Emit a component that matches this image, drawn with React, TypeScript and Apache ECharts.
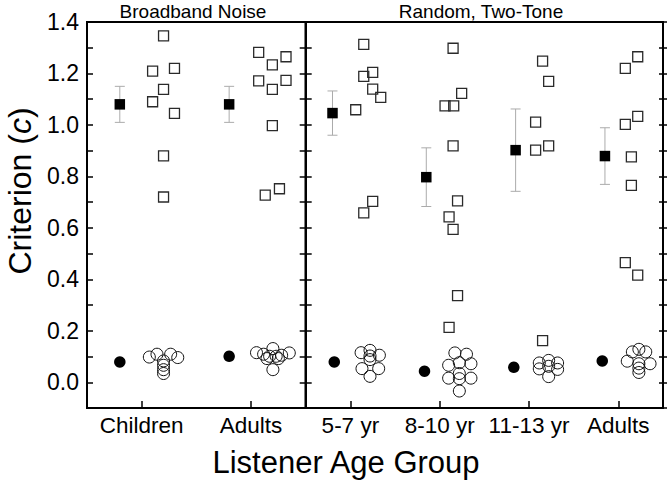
import React, { useEffect, useRef } from "react";
import * as echarts from "echarts";

const FONT = "'Liberation Sans', Arial, sans-serif";

// Categories
const bbCategories = ["Children", "Adults"];
const rtCategories = ["5-7 yr", "8-10 yr", "11-13 yr", "Adults"];
const yTickLabels = ["0.0", "0.2", "0.4", "0.6", "0.8", "1.0", "1.2", "1.4"];

// Group means (filled symbols) and their x offsets from the category centre
const bbSquareMean = [1.08, 1.08];
const bbSquareErr = [0.07, 0.07];
const bbSquareMeanOffset = [-0.2, -0.2];
const bbCircleMean = [0.079, 0.101];
const bbCircleMeanOffset = [-0.2, -0.2];

const rtSquareMean = [1.046, 0.797, 0.902, 0.879];
const rtSquareErr = [0.086, 0.114, 0.16, 0.11];
const rtSquareMeanOffset = [-0.2, -0.15, -0.15, -0.15];
const rtCircleMean = [0.079, 0.043, 0.058, 0.083];
const rtCircleMeanOffset = [-0.18, -0.17, -0.17, -0.18];

// Individual listeners: [jitter offset, value]
const bbChildrenSquares = [[0.2, 1.346], [0.1, 1.209], [0.3, 1.22], [0.2, 1.138], [0.1, 1.09], [0.3, 1.045], [0.2, 0.88], [0.2, 0.72]];
const bbAdultsSquares = [[0.07, 1.282], [0.32, 1.265], [0.195, 1.233], [0.07, 1.171], [0.32, 1.173], [0.195, 1.138], [0.195, 0.997], [0.13, 0.727], [0.26, 0.752]];
const bbChildrenCircles = [[0.07, 0.098], [0.14, 0.109], [0.265, 0.109], [0.33, 0.096], [0.2, 0.083], [0.2, 0.066], [0.2, 0.049], [0.2, 0.034]];
const bbAdultsCircles = [[0.05, 0.115], [0.2, 0.131], [0.35, 0.114], [0.115, 0.109], [0.17, 0.101], [0.23, 0.101], [0.28, 0.105], [0.146, 0.092], [0.25, 0.092], [0.2, 0.049]];

const rt57Squares = [[0.15, 1.313], [0.15, 1.189], [0.25, 1.204], [0.25, 1.139], [0.34, 1.107], [0.06, 1.059], [0.25, 0.703], [0.15, 0.658]];
const rt810Squares = [[0.15, 1.298], [0.246, 1.123], [0.06, 1.074], [0.157, 1.074], [0.15, 0.919], [0.2, 0.705], [0.105, 0.643], [0.15, 0.594], [0.2, 0.337], [0.105, 0.213]];
const rt1113Squares = [[0.152, 1.248], [0.22, 1.169], [0.074, 1.011], [0.074, 0.902], [0.22, 0.919], [0.152, 0.162]];
const rtAdultsSquares = [[0.217, 1.265], [0.078, 1.22], [0.217, 1.033], [0.078, 1.002], [0.146, 0.876], [0.146, 0.765], [0.078, 0.465], [0.217, 0.416]];

const rt57Circles = [[0.12, 0.115], [0.22, 0.124], [0.22, 0.102], [0.325, 0.105], [0.22, 0.088], [0.13, 0.053], [0.317, 0.053], [0.22, 0.023]];
const rt810Circles = [[0.17, 0.114], [0.3, 0.109], [0.1, 0.066], [0.22, 0.076], [0.35, 0.072], [0.1, 0.016], [0.22, 0.034], [0.22, 0.014], [0.35, 0.016], [0.22, -0.034]];
const rt1113Circles = [[0.115, 0.075], [0.22, 0.085], [0.32, 0.075], [0.115, 0.052], [0.32, 0.05], [0.22, 0.062], [0.22, 0.022]];
const rtAdultsCircles = [[0.157, 0.118], [0.23, 0.128], [0.307, 0.118], [0.1, 0.082], [0.23, 0.072], [0.355, 0.072], [0.23, 0.055], [0.23, 0.038]];

const bbSquares = [bbChildrenSquares, bbAdultsSquares];
const bbCircles = [bbChildrenCircles, bbAdultsCircles];
const rtSquares = [rt57Squares, rt810Squares, rt1113Squares, rtAdultsSquares];
const rtCircles = [rt57Circles, rt810Circles, rt1113Circles, rtAdultsCircles];

function placed(groups: number[][][]) {
  const out: number[][] = [];
  groups.forEach((g, i) => g.forEach(([o, v]) => out.push([i + 1 + o, v])));
  return out;
}
function means(vals: number[], offs: number[], errs?: number[]) {
  return vals.map((v, i) => (errs ? [i + 1 + offs[i], v, errs[i]] : [i + 1 + offs[i], v]));
}

function panelSeries(xIdx: number, yIdx: number, sqMean: number[], sqOff: number[], sqErr: number[], cMean: number[], cOff: number[], squares: number[][][], circles: number[][][]) {
  return [
    {
      type: "custom",
      xAxisIndex: xIdx,
      yAxisIndex: yIdx,
      z: 1,
      encode: { x: 0, y: 1 },
      data: means(sqMean, sqOff, sqErr),
      renderItem: (params: any, api: any) => {
        const x = api.value(0);
        const y = api.value(1);
        const e = api.value(2);
        const t = api.coord([x, y + e]);
        const b = api.coord([x, y - e]);
        const c = 5;
        const st = { stroke: "#ababab", lineWidth: 1 };
        return {
          type: "group",
          children: [
            { type: "line", shape: { x1: t[0], y1: t[1], x2: b[0], y2: b[1] }, style: st },
            { type: "line", shape: { x1: t[0] - c, y1: t[1], x2: t[0] + c, y2: t[1] }, style: st },
            { type: "line", shape: { x1: b[0] - c, y1: b[1], x2: b[0] + c, y2: b[1] }, style: st },
          ],
        };
      },
    },
    {
      type: "scatter",
      xAxisIndex: xIdx,
      yAxisIndex: yIdx,
      z: 3,
      symbol: "rect",
      symbolSize: 10.5,
      itemStyle: { color: "#000", opacity: 1 },
      data: means(sqMean, sqOff),
    },
    {
      type: "scatter",
      xAxisIndex: xIdx,
      yAxisIndex: yIdx,
      z: 3,
      symbol: "circle",
      symbolSize: 11.5,
      itemStyle: { color: "#000", opacity: 1 },
      data: means(cMean, cOff),
    },
    {
      type: "scatter",
      xAxisIndex: xIdx,
      yAxisIndex: yIdx,
      z: 2,
      symbol: "rect",
      symbolSize: 10,
      itemStyle: { color: "rgba(0,0,0,0)", borderColor: "#2a2a2a", borderWidth: 1.3, opacity: 1 },
      data: placed(squares),
    },
    {
      type: "scatter",
      xAxisIndex: xIdx,
      yAxisIndex: yIdx,
      z: 2,
      symbol: "circle",
      symbolSize: 12,
      itemStyle: { color: "rgba(0,0,0,0)", borderColor: "#111", borderWidth: 1, opacity: 1 },
      data: placed(circles),
    },
  ];
}

const yBase = {
  type: "value",
  min: -0.1,
  max: 1.4,
  interval: 0.1,
  splitLine: { show: false },
  axisLine: { show: true, lineStyle: { color: "#000", width: 2 } },
  axisTick: { show: true, inside: true, length: 6, lineStyle: { color: "#000", width: 1.5 } },
  axisLabel: { show: false },
};

export default function App() {
  const ref = useRef<HTMLDivElement>(null);
  useEffect(() => {
    if (!ref.current) return;
    const chart = echarts.init(ref.current, undefined, { renderer: "svg" });
    const catAxis = (gridIndex: number, data: string[]) => ({
      type: "category",
      gridIndex,
      data,
      position: "bottom",
      boundaryGap: true,
      axisLine: { show: true, onZero: false, lineStyle: { color: "#000", width: 2 } },
      axisTick: { show: true, inside: true, alignWithLabel: true, interval: 0, length: 7, lineStyle: { color: "#000", width: 1.5 } },
      axisLabel: { color: "#000", fontSize: 22.5, fontFamily: FONT, margin: 6, interval: 0 },
      splitLine: { show: false },
    });
    const option: any = {
      animation: false,
      backgroundColor: "#fff",
      grid: [
        { left: 87, right: 364.3, top: 22, bottom: 74, show: true, borderColor: "#000", borderWidth: 2, backgroundColor: "transparent" },
        { left: 305.7, right: 7, top: 22, bottom: 74, show: true, borderColor: "#000", borderWidth: 2, backgroundColor: "transparent" },
      ],
      xAxis: [
        catAxis(0, bbCategories),
        { type: "value", gridIndex: 0, min: 0.5, max: 2.5, show: false },
        catAxis(1, rtCategories),
        { type: "value", gridIndex: 1, min: 0.5, max: 4.5, show: false },
      ],
      yAxis: [
        {
          ...yBase,
          gridIndex: 0,
          position: "left",
          axisLabel: {
            show: true,
            color: "#000",
            fontSize: 23,
            fontFamily: FONT,
            margin: 8,
            formatter: (v: number) => {
              const r = Math.round(v * 10);
              return r >= 0 && r % 2 === 0 ? yTickLabels[r / 2] : "";
            },
          },
        },
        { ...yBase, gridIndex: 0, position: "right" },
        { ...yBase, gridIndex: 1, position: "left" },
        { ...yBase, gridIndex: 1, position: "right", axisTick: { ...yBase.axisTick, length: 4 } },
        { ...yBase, gridIndex: 1, position: "right", axisLine: { show: false }, axisTick: { ...yBase.axisTick, inside: false, length: 4 } },
      ],
      series: [
        ...panelSeries(1, 0, bbSquareMean, bbSquareMeanOffset, bbSquareErr, bbCircleMean, bbCircleMeanOffset, bbSquares, bbCircles),
        ...panelSeries(3, 2, rtSquareMean, rtSquareMeanOffset, rtSquareErr, rtCircleMean, rtCircleMeanOffset, rtSquares, rtCircles),
      ],
      graphic: [
        {
          type: "text",
          x: 193,
          y: 11,
          style: { text: "Broadband Noise", fill: "#000", font: `19px ${FONT}`, align: "center", verticalAlign: "middle" },
        },
        {
          type: "text",
          x: 481,
          y: 11,
          style: { text: "Random, Two-Tone", fill: "#000", font: `19px ${FONT}`, align: "center", verticalAlign: "middle" },
        },
        {
          type: "text",
          x: 346,
          y: 462,
          style: { text: "Listener Age Group", fill: "#000", font: `31px ${FONT}`, align: "center", verticalAlign: "middle" },
        },
        {
          type: "text",
          x: 20,
          y: 191,
          rotation: Math.PI / 2,
          style: {
            text: "{a|Criterion (}{b|c}{a|)}",
            fill: "#000",
            align: "center",
            verticalAlign: "middle",
            rich: {
              a: { fontSize: 32, fontFamily: FONT, fill: "#000" },
              b: { fontSize: 32, fontFamily: FONT, fontStyle: "italic", fill: "#000" },
            },
          },
        },
      ],
    };
    chart.setOption(option);
    return () => chart.dispose();
  }, []);
  return <div ref={ref} style={{ position: "fixed", left: 0, top: 0, width: 670, height: 482 }} />;
}
